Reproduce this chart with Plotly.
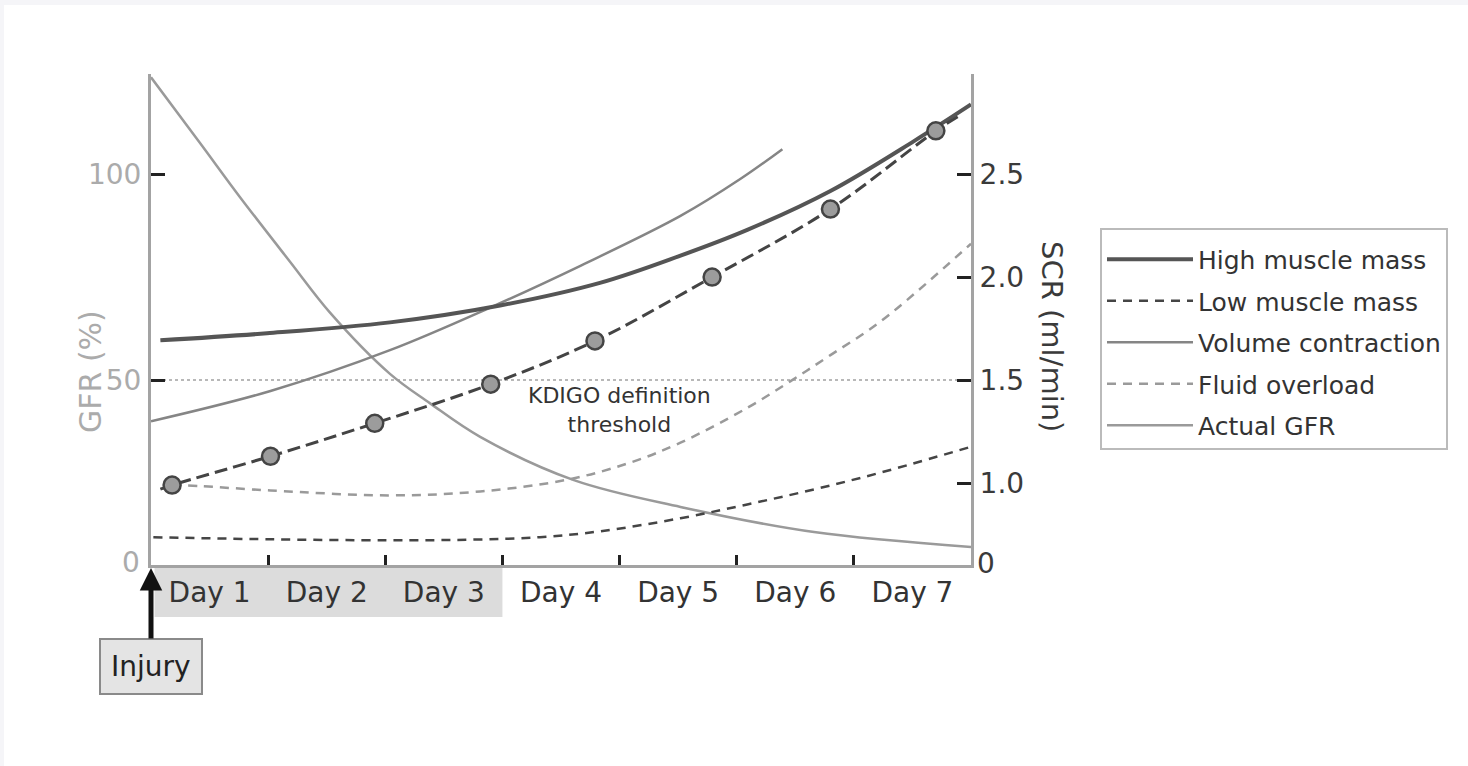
import plotly.graph_objects as go

# ---------------- data ----------------
day_labels = ["Day 1", "Day 2", "Day 3", "Day 4", "Day 5", "Day 6", "Day 7"]
day_label_pos = [0.5, 1.5, 2.5, 3.5, 4.5, 5.5, 6.5]
day_ticks = [1, 2, 3, 4, 5, 6]

# High muscle mass (SCR, right axis)
days_high = [0.08, 0.99, 2.04, 2.98, 3.84, 4.52, 5.09, 5.80, 6.51, 7.0]
scr_high = [1.693, 1.727, 1.780, 1.862, 1.973, 2.104, 2.229, 2.418, 2.659, 2.838]

# Measured SCR points (circles) and the dashed line through them
days_meas = [0.18, 1.02, 1.91, 2.9, 3.79, 4.79, 5.80, 6.70]
scr_meas = [0.99, 1.13, 1.29, 1.48, 1.69, 2.00, 2.33, 2.71]
days_meas_line = [0.08, 0.18, 1.02, 1.91, 2.9, 3.79, 4.79, 5.80, 6.70, 6.92]
scr_meas_line = [0.97, 0.99, 1.13, 1.29, 1.48, 1.69, 2.00, 2.33, 2.71, 2.79]

# Low muscle mass
days_low = [0.02, 1.0, 2.03, 2.72, 3.32, 3.84, 4.52, 5.09, 5.66, 6.23, 7.0]
scr_low = [0.737, 0.727, 0.722, 0.725, 0.737, 0.766, 0.829, 0.896, 0.969, 1.051, 1.176]

# Volume contraction
days_vol = [0.0, 1.02, 2.04, 2.9, 3.67, 4.52, 5.03, 5.39]
scr_vol = [1.30, 1.447, 1.645, 1.853, 2.056, 2.297, 2.476, 2.621]

# Fluid overload
days_fluid = [0.18, 0.42, 1.02, 2.04, 2.81, 3.56, 4.09, 4.52, 5.09, 5.46, 5.80, 6.23, 7.0]
scr_fluid = [0.99, 0.985, 0.964, 0.940, 0.959, 1.017, 1.099, 1.196, 1.365, 1.495, 1.621, 1.785, 2.162]

# Actual GFR (%, left axis)
days_gfr = [0.0, 0.42, 0.76, 1.19, 1.53, 2.04, 2.38, 2.81, 3.61, 4.52, 5.66, 7.0]
gfr_actual = [123.5, 107.5, 94.4, 78.6, 66.3, 51.5, 44.4, 36.2, 25.7, 19.2, 13.1, 9.5]

threshold_gfr = 50
gfr_ticks = [50, 100]
scr_ticks = [1.0, 1.5, 2.0, 2.5]
scr_tick_text = ["1.0", "1.5", "2.0", "2.5"]

# axis ranges (left GFR, right SCR; 50% GFR <-> 1.5 SCR, 100% <-> 2.5)
gfr_range = [5.1, 124.3]
scr_range = [g / 50 + 0.5 for g in gfr_range]

# ---------------- figure ----------------
W, H = 1468, 766
L, R, T, B = 151, 497, 74, 201
pw, ph = W - L - R, H - T - B

def px_x(p):
    return (p - L) / pw

def px_y(p):
    return (H - B - p) / ph

fig = go.Figure()

# threshold dotted line
fig.add_trace(go.Scatter(x=[0, 7], y=[threshold_gfr, threshold_gfr], mode="lines",
                         line=dict(color="#b8b8b8", width=2, dash="dot"),
                         showlegend=False, hoverinfo="skip", yaxis="y"))

fig.add_trace(go.Scatter(x=days_gfr, y=gfr_actual, mode="lines", name="Actual GFR",
                         line=dict(color="#9a9a9a", width=2.5, shape="spline", smoothing=1),
                         yaxis="y", legendrank=5, legendgroup="g5"))

fig.add_trace(go.Scatter(x=days_vol, y=scr_vol, mode="lines", name="Volume contraction",
                         line=dict(color="#858585", width=2.5, shape="spline"),
                         yaxis="y2", legendrank=3, legendgroup="g3"))

fig.add_trace(go.Scatter(x=days_fluid, y=scr_fluid, mode="lines", name="Fluid overload",
                         line=dict(color="#9a9a9a", width=2.5, dash="9px,7px", shape="spline"),
                         yaxis="y2", legendrank=4, legendgroup="g4"))

fig.add_trace(go.Scatter(x=days_low, y=scr_low, mode="lines", name="Low muscle mass",
                         line=dict(color="#454545", width=2.5, dash="9px,7px", shape="spline"),
                         yaxis="y2", legendrank=2, legendgroup="g2"))

fig.add_trace(go.Scatter(x=days_high, y=scr_high, mode="lines", name="High muscle mass",
                         line=dict(color="#555555", width=4, shape="spline"),
                         yaxis="y2", legendrank=1, legendgroup="g1"))

fig.add_trace(go.Scatter(x=days_meas_line, y=scr_meas_line, mode="lines",
                         line=dict(color="#444444", width=3, dash="13px,6px", shape="spline"),
                         showlegend=False, yaxis="y2"))

fig.add_trace(go.Scatter(x=days_meas, y=scr_meas, mode="markers",
                         marker=dict(size=17, color="#9c9c9c",
                                     line=dict(color="#444444", width=2.5)),
                         showlegend=False, yaxis="y2"))

# shapes: grey band behind day 1-3 labels, light page strips
shapes = [
    dict(type="rect", xref="x", yref="paper", x0=0.03, x1=3.0,
         y0=px_y(617), y1=px_y(568), fillcolor="#dcdcdc", line=dict(width=0), layer="below"),
    dict(type="rect", xref="paper", yref="paper", x0=px_x(0), x1=px_x(4),
         y0=px_y(H), y1=px_y(0), fillcolor="#f5f5f8", line=dict(width=0), layer="below"),
    dict(type="rect", xref="paper", yref="paper", x0=px_x(0), x1=px_x(W),
         y0=px_y(5), y1=px_y(0), fillcolor="#f5f5f8", line=dict(width=0), layer="below"),
]

annotations = [
    dict(text="GFR (%)", xref="paper", yref="paper", x=px_x(90), y=px_y(372),
         xanchor="center", yanchor="middle",
         textangle=-90, showarrow=False, font=dict(size=30, color="#ababab")),
    dict(text="SCR (ml/min)", xref="paper", yref="paper", x=px_x(1052), y=px_y(336),
         xanchor="center", yanchor="middle",
         textangle=90, showarrow=False, font=dict(size=29, color="#3a3a3a")),
    dict(text="0", xref="paper", yref="paper", x=px_x(131), y=px_y(562),
         xanchor="center", yanchor="middle",
         showarrow=False, font=dict(size=28, color="#ababab")),
    dict(text="0", xref="paper", yref="paper", x=px_x(986), y=px_y(563),
         xanchor="center", yanchor="middle",
         showarrow=False, font=dict(size=28, color="#3a3a3a")),
    dict(text="KDIGO definition<br>threshold", xref="x", yref="paper", x=4.0, y=px_y(410),
         xanchor="center", yanchor="middle",
         showarrow=False, font=dict(size=22, color="#333333")),
    dict(text="Injury", xref="x", yref="paper", x=0, y=px_y(568),
         showarrow=True, ax=0, ay=98, arrowhead=2, arrowsize=0.9, arrowwidth=5,
         arrowcolor="#111111", bgcolor="#e4e4e4", bordercolor="#8a8a8a",
         borderwidth=2, borderpad=10, font=dict(size=28, color="#222222")),
]

fig.update_layout(
    width=W, height=H, autosize=False,
    margin=dict(l=L, r=R, t=T, b=B),
    paper_bgcolor="white", plot_bgcolor="white",
    font=dict(family="DejaVu Sans", color="#333333"),
    showlegend=True,
    legend=dict(x=px_x(1100), y=px_y(228), xanchor="left", yanchor="top",
                bordercolor="#bbbbbb", borderwidth=2, bgcolor="white",
                font=dict(size=25, color="#333333"), itemwidth=86,
                traceorder="grouped", tracegroupgap=6,
                title=dict(text=" ", font=dict(size=5))),
    xaxis=dict(range=[0, 7], showgrid=False, zeroline=False,
               showline=True, linecolor="#a3a3a3", linewidth=3,
               tickmode="array", tickvals=day_label_pos, ticktext=day_labels,
               ticks="", tickfont=dict(size=28, color="#333333"),
               minor=dict(tickmode="array", tickvals=day_ticks, ticks="inside",
                          ticklen=10, tickwidth=3, tickcolor="#222222", showgrid=False)),
    yaxis=dict(range=gfr_range, showgrid=False, zeroline=False,
               showline=True, linecolor="#a3a3a3", linewidth=3,
               tickmode="array", tickvals=gfr_ticks, ticks="inside",
               ticklen=14, tickwidth=3, tickcolor="#222222",
               tickfont=dict(size=28, color="#ababab"), ticklabelstandoff=1),
    yaxis2=dict(range=scr_range, overlaying="y", side="right", showgrid=False,
                zeroline=False, showline=True, linecolor="#a3a3a3", linewidth=3,
                tickmode="array", tickvals=scr_ticks, ticktext=scr_tick_text,
                ticks="inside", ticklen=14, tickwidth=3, tickcolor="#222222",
                tickfont=dict(size=28, color="#3a3a3a"), ticklabelstandoff=0),
    shapes=shapes,
    annotations=annotations,
)

fig.write_html("out.html", config={"displayModeBar": False},
               post_script="document.body.style.margin='0';")
